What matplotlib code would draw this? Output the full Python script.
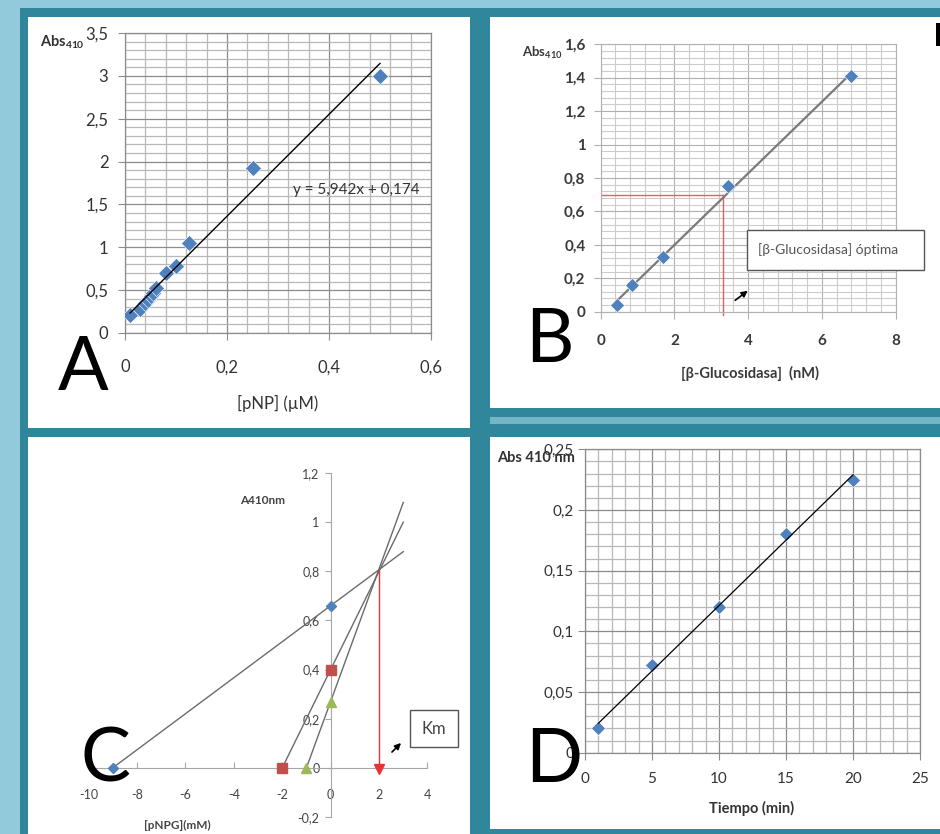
import matplotlib
matplotlib.use("Agg")
import matplotlib.pyplot as plt
import numpy as np
from matplotlib.patches import Rectangle, FancyArrowPatch
from matplotlib.ticker import MultipleLocator, FuncFormatter

plt.rcParams["font.family"] = ["Lato", "DejaVu Sans"]

W, H = 940, 834

# A - pNP calibration curve
pnp_conc = [0.01, 0.03, 0.04, 0.045, 0.05, 0.055, 0.06, 0.08, 0.10, 0.125, 0.25, 0.50]
pnp_abs = [0.21, 0.28, 0.35, 0.39, 0.43, 0.47, 0.52, 0.70, 0.78, 1.05, 1.92, 3.00]
pnp_slope, pnp_icept = 5.942, 0.174

# B - enzyme concentration
glu_conc = [0.43, 0.85, 1.70, 3.45, 6.80]
glu_abs = [0.04, 0.16, 0.33, 0.75, 1.41]
glu_opt_x, glu_opt_y = 3.33, 0.70

# C - direct linear plot
c_x_icept = [-9, -2, -1]
c_y_icept = [0.66, 0.40, 0.27]
c_x_end = 3
km, km_abs = 2, 0.8

# D - time course
time_min = [1, 5, 10, 15, 20]
time_abs = [0.02, 0.072, 0.12, 0.18, 0.225]

LIGHT = "#93cadb"
TEAL = "#30869b"
BLUE = "#4f81bd"
TXT = "#333333"
c_markers = ["D", "s", "^"]
c_colors = [BLUE, "#c0504d", "#9bbb59"]
c_sizes = [5.5, 7, 7]


def box(x0, y0, x1, y1):
    # pixel box (top-left origin) -> figure fraction rect
    return [x0 / W, 1 - y1 / H, (x1 - x0) / W, (y1 - y0) / H]


def rect(x0, y0, x1, y1, fc, ec="none", lw=0, z=-5):
    l, b, w, h = box(x0, y0, x1, y1)
    fig.patches.append(Rectangle((l, b), w, h, transform=fig.transFigure,
                                 facecolor=fc, edgecolor=ec, lw=lw, zorder=z))


def ftext(px, py, s, **kw):
    fig.text(px / W, 1 - py / H, s, **kw)


def arrow(p0, p1, color="black"):
    a = FancyArrowPatch((p0[0] / W, 1 - p0[1] / H), (p1[0] / W, 1 - p1[1] / H),
                        transform=fig.transFigure, arrowstyle="-|>",
                        mutation_scale=9, color=color, lw=1.2)
    fig.add_artist(a)


comma = FuncFormatter(lambda v, pos: f"{round(v, 3):g}".replace(".", ","))


def excel_grid(ax, xmaj, xmin, ymaj, ymin, major_c, minor_c, lw):
    ax.xaxis.set_major_locator(MultipleLocator(xmaj))
    ax.xaxis.set_minor_locator(MultipleLocator(xmin))
    ax.yaxis.set_major_locator(MultipleLocator(ymaj))
    ax.yaxis.set_minor_locator(MultipleLocator(ymin))
    ax.grid(which="minor", color=minor_c, lw=lw)
    ax.grid(which="major", color=major_c, lw=lw)
    ax.set_axisbelow(True)
    ax.xaxis.set_major_formatter(comma)
    ax.yaxis.set_major_formatter(comma)
    ax.tick_params(which="minor", length=0)
    for s in ax.spines.values():
        s.set_color(major_c)
        s.set_linewidth(lw)


fig = plt.figure(figsize=(9.4, 8.34), dpi=100)
fig.patch.set_facecolor(LIGHT)

# frames
rect(20, 8, 940, 834, TEAL, z=-10)
rect(490, 417, 940, 424, "#74b6c8", z=-9)
rect(28, 17, 470, 428, "white")
rect(28, 437, 470, 834, "white")
rect(490, 17, 940, 408, "white")
rect(490, 437, 940, 829, "white")

# ---------------- A ----------------
axA = fig.add_axes(box(125, 33, 431, 333))
axA.set_xlim(0, 0.6)
axA.set_ylim(0, 3.5)
excel_grid(axA, 0.2, 0.04, 0.5, 0.1, "#8c8c8c", "#b8b8b8", 0.9)
axA.tick_params(which="major", length=5, color="#8c8c8c", labelsize=12,
                labelcolor=TXT)
axA.tick_params(axis="x", pad=14)
axA.tick_params(axis="y", pad=7)
axA.plot(pnp_conc, pnp_abs, "D", color=BLUE, ms=8, mec="white", mew=0.4,
         zorder=3)
xa = np.array([min(pnp_conc), max(pnp_conc)])
axA.plot(xa, pnp_slope * xa + pnp_icept, color="black", lw=1, zorder=4)
axA.text(0.329, 1.67, f"y = {pnp_slope:g}x + {pnp_icept:g}".replace(".", ","),
         fontsize=11, color=TXT, va="center", ha="left")
ftext(40, 46, r"Abs$_{\mathregular{410}}$", fontsize=10.5, fontweight="bold",
      color=TXT, va="baseline")
ftext(278, 403, "[pNP] (µM)", fontsize=12, color=TXT, ha="center",
      va="center")
ftext(58, 390, "A", fontsize=54, va="baseline", color="black")

# ---------------- B ----------------
axB = fig.add_axes(box(600.7, 44.3, 895.7, 311.7))
axB.set_xlim(0, 8)
axB.set_ylim(0, 1.6)
excel_grid(axB, 2, 0.4, 0.2, 0.04, "#b0b0b0", "#cccccc", 0.8)
axB.tick_params(which="major", length=5, color="#b0b0b0", labelsize=11,
                labelcolor="#3a3a3a")
axB.tick_params(axis="x", pad=11)
axB.tick_params(axis="y", pad=6)
for lab in axB.get_xticklabels() + axB.get_yticklabels():
    lab.set_fontweight("bold")
kb, bb = np.polyfit(glu_conc, glu_abs, 1)
xb = np.array([min(glu_conc), max(glu_conc)])
axB.plot(xb, kb * xb + bb, color="#7a7a7a", lw=1.6, zorder=3)
axB.plot(glu_conc, glu_abs, "D", color=BLUE, ms=7.5, mec="white", mew=0.4,
         zorder=4)
axB.plot([0, glu_opt_x], [glu_opt_y, glu_opt_y], color="#ee5a5f", lw=1,
         zorder=2)
axB.plot([glu_opt_x, glu_opt_x], [glu_opt_y, -0.02], color="#ee5a5f", lw=1,
         zorder=2, clip_on=False)
rect(747, 230, 924, 270, "white", ec="#555555", lw=1, z=5)
ftext(758, 250, "[β-Glucosidasa] óptima", fontsize=10, color="#555555",
      va="center", zorder=6)
arrow((733, 302), (750, 289))
ftext(522, 57, r"Abs$_{\mathregular{410}}$", fontsize=9.5, fontweight="bold",
      color="#3a3a3a", va="baseline")
ftext(750, 373, "[β-Glucosidasa]  (nM)", fontsize=10.5, fontweight="bold",
      color="#3a3a3a", ha="center", va="center")
ftext(525, 362, "B", fontsize=54, va="baseline", color="black")
rect(936, 23, 940, 46, "black", z=5)

# ---------------- C ----------------
axC = fig.add_axes(box(88.5, 473, 427.5, 817))
axC.set_xlim(-10, 4)
axC.set_ylim(-0.2, 1.2)
axC.set_facecolor("none")
axC.spines["left"].set_position(("data", 0))
axC.spines["bottom"].set_position(("data", 0))
axC.spines["top"].set_visible(False)
axC.spines["right"].set_visible(False)
for s in ("left", "bottom"):
    axC.spines[s].set_color("#a6a6a6")
axC.xaxis.set_major_locator(MultipleLocator(2))
axC.yaxis.set_major_locator(MultipleLocator(0.2))
axC.xaxis.set_major_formatter(comma)
axC.yaxis.set_major_formatter(comma)
axC.tick_params(axis="x", direction="in", length=4, color="#a6a6a6", pad=15,
                labelsize=9, labelcolor="#444444")
axC.tick_params(axis="y", direction="out", length=4, color="#a6a6a6", pad=4,
                labelsize=9, labelcolor="#444444")
for xi, yi, mk, col, ms in zip(c_x_icept, c_y_icept, c_markers, c_colors,
                               c_sizes):
    slope = yi / (0 - xi)
    xs = np.array([xi, c_x_end])
    axC.plot(xs, slope * (xs - xi), color="#6b6b6b", lw=1, zorder=2)
    axC.plot([xi, 0], [0, yi], mk, color=col, ms=ms, zorder=3, clip_on=False)
axC.plot([km, km], [km_abs, 0], color="#e8323a", lw=1, zorder=3)
axC.plot([km], [-0.005], "v", color="#e8323a", ms=7, zorder=4)
ftext(263, 500, "A410nm", fontsize=8.5, fontweight="bold", color="#444444",
      ha="center", va="center")
ftext(177, 825, "[pNPG](mM)", fontsize=8.5, fontweight="bold",
      color="#444444", ha="center", va="center")
rect(410, 710, 458, 747, "white", ec="#555555", lw=1, z=5)
ftext(434, 729, "Km", fontsize=12, color="#444444", ha="center", va="center",
      zorder=6)
arrow((390, 754), (403, 741))
ftext(81, 782, "C", fontsize=54, va="baseline", color="black")

# ---------------- D ----------------
axD = fig.add_axes(box(585, 449.3, 920, 752.7))
axD.set_xlim(0, 25)
axD.set_ylim(0, 0.25)
excel_grid(axD, 5, 1, 0.05, 0.01, "#8c8c8c", "#b8b8b8", 0.9)
axD.tick_params(which="major", length=5, color="#8c8c8c", labelsize=11,
                labelcolor=TXT)
axD.tick_params(axis="x", pad=9)
axD.tick_params(axis="y", pad=3)
kd, bd = np.polyfit(time_min, time_abs, 1)
xd = np.array([min(time_min), max(time_min)])
axD.plot(xd, kd * xd + bd, color="black", lw=0.9, zorder=4)
axD.plot(time_min, time_abs, "D", color=BLUE, ms=7.5, mec="white", mew=0.4,
         zorder=3)
ftext(497, 458, "Abs 410 nm", fontsize=10.5, fontweight="bold", color=TXT,
      va="center")
ftext(752, 808, "Tiempo (min)", fontsize=10.5, fontweight="bold", color=TXT,
      ha="center", va="center")
ftext(525, 782, "D", fontsize=54, va="baseline", color="black")

fig.savefig("out.png", dpi=100, facecolor=fig.get_facecolor())
